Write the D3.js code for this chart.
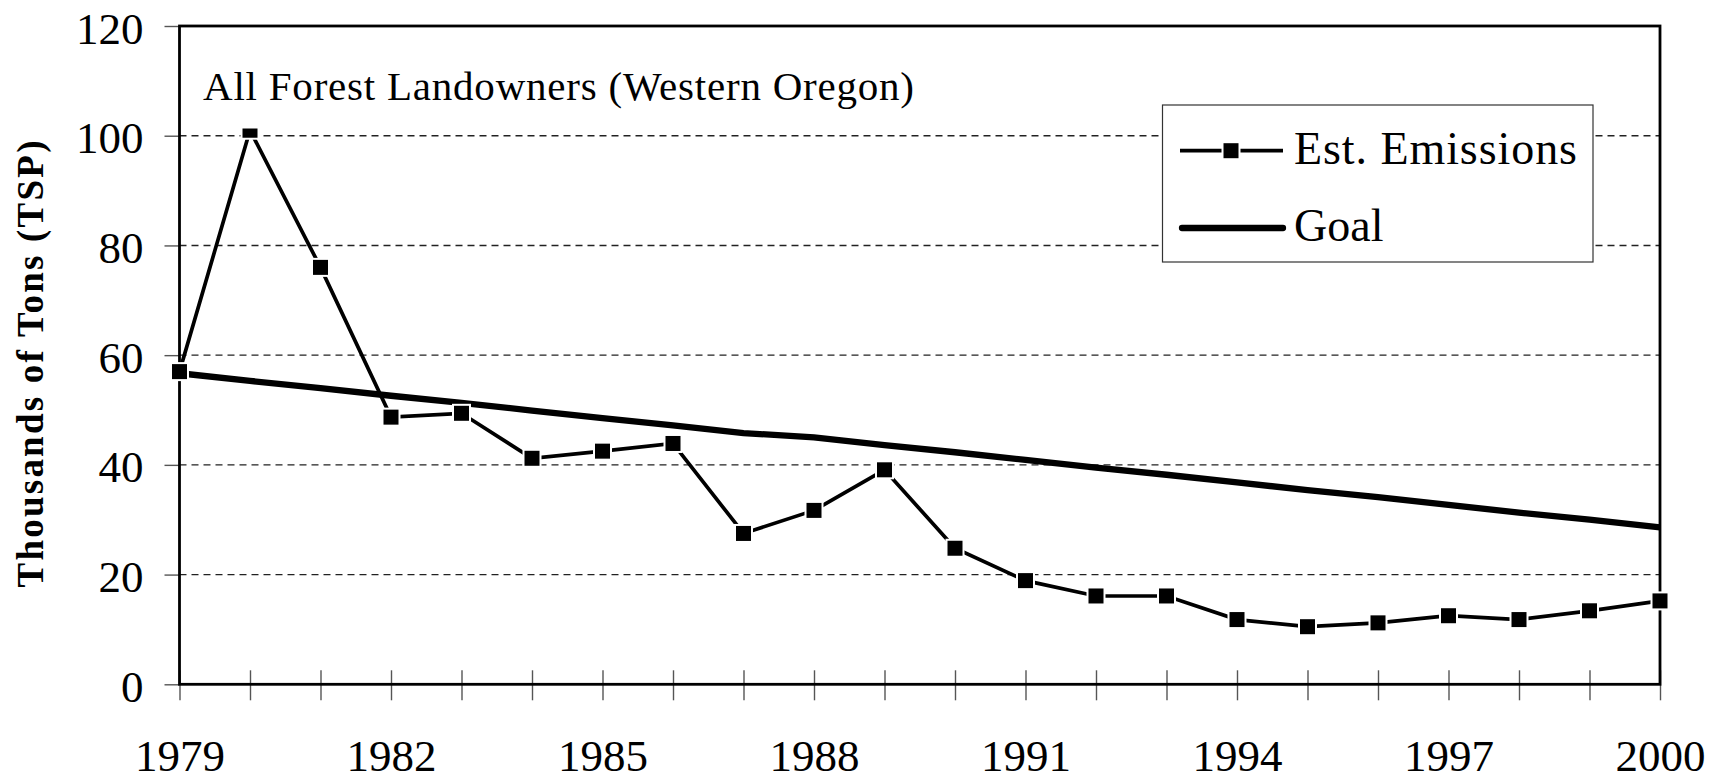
<!DOCTYPE html>
<html>
<head>
<meta charset="utf-8">
<script src="https://cdn.jsdelivr.net/npm/d3@7"></script>
<style>
  body { margin: 0; background: #fff; }
  text { font-family: "Liberation Serif", "Times New Roman", serif; fill: #000; }
</style>
</head>
<body>
<div class="chart"></div>
<script>
// Years on the x axis
var years = d3.range(1979, 2001);

// Estimated emissions, thousands of tons (TSP)
var emissions = [57, 101, 76, 48.7, 49.4, 41.2, 42.5, 43.9, 27.5, 31.7, 39.1, 24.8,
                 18.9, 16.1, 16.1, 11.8, 10.5, 11.2, 12.5, 11.8, 13.4, 15.2];

// Goal line
var goal = [56.7, 55.3, 54.0, 52.6, 51.3, 49.9, 48.5, 47.2, 45.8, 45.0, 43.6, 42.3,
            40.9, 39.5, 38.2, 36.8, 35.4, 34.1, 32.7, 31.3, 30.0, 28.6];

var yTicks = [0, 20, 40, 60, 80, 100, 120];
var xLabelYears = [1979, 1982, 1985, 1988, 1991, 1994, 1997, 2000];

var width = 1722,
    height = 779;

// plot box (note: "top" is taken by window.top, so prefix these)
var plotLeft = 179.5, plotRight = 1660, plotTop = 26, plotBottom = 684.3;

var svg = d3.select('.chart')
    .append('svg')
    .attr('width', width)
    .attr('height', height);

var x = d3.scaleLinear().domain([1979, 2000]).range([plotLeft, plotRight]);
var y = d3.scaleLinear().domain([0, 120]).range([plotBottom, plotTop]);

// dashed gridlines
svg.append('g')
    .selectAll('line')
    .data(yTicks.filter(function(d) { return d > 0 && d < 120; }))
    .enter()
    .append('line')
    .attr('x1', plotLeft)
    .attr('x2', plotRight)
    .attr('y1', function(d) { return y(d); })
    .attr('y2', function(d) { return y(d); })
    .attr('stroke', '#222')
    .attr('stroke-width', 1.4)
    .attr('stroke-dasharray', '7,5');

// y axis (ticks outside the frame)
var yAxis = svg.append('g')
    .attr('transform', 'translate(' + plotLeft + ',0)')
    .call(d3.axisLeft(y).tickValues(yTicks).tickSize(15).tickPadding(21));
yAxis.select('.domain').remove();
yAxis.selectAll('.tick line').attr('stroke', '#555').attr('stroke-width', 1.4);
yAxis.selectAll('text')
    .attr('font-size', '45px')
    .attr('dy', '0.38em')
    .style('font-family', '"Liberation Serif", serif');

// x axis: tick every year, label every third
var xAxisY = plotBottom - 14;
var xAxis = svg.append('g')
    .attr('transform', 'translate(0,' + xAxisY + ')')
    .call(d3.axisBottom(x).tickValues(years).tickSize(30)
        .tickFormat(function(d) { return xLabelYears.indexOf(d) >= 0 ? d : ''; }));
xAxis.select('.domain').remove();
xAxis.selectAll('.tick line').attr('stroke', '#555').attr('stroke-width', 1.4);
xAxis.selectAll('text')
    .attr('font-size', '45px')
    .attr('y', 771 - xAxisY)
    .attr('dy', null)
    .style('font-family', '"Liberation Serif", serif');

// plot frame
svg.append('rect')
    .attr('x', plotLeft)
    .attr('y', plotTop)
    .attr('width', plotRight - plotLeft)
    .attr('height', plotBottom - plotTop)
    .attr('fill', 'none')
    .attr('stroke', '#000')
    .attr('stroke-width', 2.8);

// goal line
var line = d3.line()
    .x(function(d, i) { return x(years[i]); })
    .y(function(d) { return y(d); });

svg.append('path')
    .datum(goal)
    .attr('d', line)
    .attr('fill', 'none')
    .attr('stroke', '#000')
    .attr('stroke-width', 6.3);

// emissions line
svg.append('path')
    .datum(emissions)
    .attr('d', line)
    .attr('fill', 'none')
    .attr('stroke', '#000')
    .attr('stroke-width', 3.7);

// markers: black square with a white halo
var markers = svg.append('g')
    .selectAll('g')
    .data(emissions)
    .enter()
    .append('g')
    .attr('transform', function(d, i) { return 'translate(' + x(years[i]) + ',' + y(d) + ')'; });
markers.append('rect')
    .attr('x', -9.5).attr('y', -9.5).attr('width', 19).attr('height', 19)
    .attr('fill', '#fff');
markers.append('rect')
    .attr('x', -7.5).attr('y', -7.5).attr('width', 15).attr('height', 15)
    .attr('fill', '#000');

// subtitle with white backing (clips the 1980 marker like the original)
svg.append('rect')
    .attr('x', 196)
    .attr('y', 60)
    .attr('width', 726)
    .attr('height', 68.5)
    .attr('fill', '#fff');
svg.append('text')
    .attr('x', 203)
    .attr('y', 100)
    .attr('font-size', '41px')
    .attr('textLength', 711)
    .attr('lengthAdjust', 'spacing')
    .text('All Forest Landowners (Western Oregon)');

// legend
var legend = svg.append('g');
legend.append('rect')
    .attr('x', 1162.5)
    .attr('y', 105)
    .attr('width', 430.5)
    .attr('height', 157)
    .attr('fill', '#fff')
    .attr('stroke', '#333')
    .attr('stroke-width', 1.2);

legend.append('line')
    .attr('x1', 1180).attr('x2', 1283)
    .attr('y1', 150.7).attr('y2', 150.7)
    .attr('stroke', '#000').attr('stroke-width', 3.7);
legend.append('rect')
    .attr('x', 1231 - 9.5).attr('y', 150.7 - 9.5).attr('width', 19).attr('height', 19)
    .attr('fill', '#fff');
legend.append('rect')
    .attr('x', 1231 - 7.5).attr('y', 150.7 - 7.5).attr('width', 15).attr('height', 15)
    .attr('fill', '#000');
legend.append('text')
    .attr('x', 1294).attr('y', 164)
    .attr('font-size', '46px')
    .attr('textLength', 283)
    .attr('lengthAdjust', 'spacing')
    .text('Est. Emissions');

legend.append('line')
    .attr('x1', 1182).attr('x2', 1283)
    .attr('y1', 228).attr('y2', 228)
    .attr('stroke', '#000').attr('stroke-width', 6.3)
    .attr('stroke-linecap', 'round');
legend.append('text')
    .attr('x', 1294).attr('y', 241)
    .attr('font-size', '46px')
    .text('Goal');

// y axis title
svg.append('text')
    .attr('transform', 'translate(43,364) rotate(-90)')
    .attr('text-anchor', 'middle')
    .attr('font-size', '37px')
    .attr('font-weight', 'bold')
    .attr('textLength', 447)
    .attr('lengthAdjust', 'spacing')
    .text('Thousands of Tons (TSP)');
</script>
</body>
</html>
